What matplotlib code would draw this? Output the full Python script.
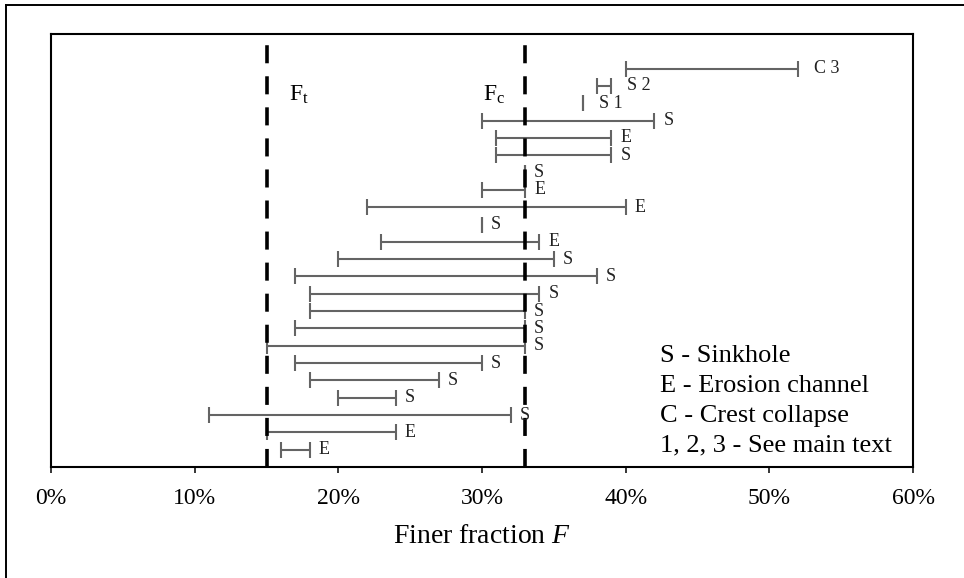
import matplotlib
matplotlib.use("Agg")
import matplotlib.pyplot as plt
from matplotlib.lines import Line2D
from matplotlib.ticker import PercentFormatter, MultipleLocator

# Range of finer fraction F (%) observed for each case, top row first
lower = [40, 38, 37, 30, 31, 31, 33, 30, 22, 30, 23, 20, 17, 18, 18, 17, 15, 17, 18, 20, 11, 15, 16]
upper = [52, 39, 37, 42, 39, 39, 33, 33, 40, 30, 34, 35, 38, 34, 33, 33, 33, 30, 27, 24, 32, 24, 18]
labels = ["C 3", "S 2", "S 1", "S", "E", "S", "S", "E", "E", "S", "E", "S",
          "S", "S", "S", "S", "S", "S", "S", "S", "S", "E", "E"]

# Threshold fractions
F_t = 15
F_c = 33

legend_lines = ["S - Sinkhole", "E - Erosion channel", "C - Crest collapse",
                "1, 2, 3 - See main text"]

plt.rcParams["font.family"] = ["Liberation Serif", "DejaVu Serif"]
plt.rcParams["mathtext.fontset"] = "custom"
plt.rcParams["mathtext.rm"] = "Liberation Serif"
plt.rcParams["mathtext.it"] = "Liberation Serif:italic"

W, H = 964, 578
fig = plt.figure(figsize=(W / 100, H / 100), dpi=100)
ax = fig.add_axes([51 / W, 1 - 467 / H, 862 / W, 433 / H])

n = len(lower)
rows = list(range(n, 0, -1))
centers = [(a + b) / 2 for a, b in zip(lower, upper)]
half = [(b - a) / 2 for a, b in zip(lower, upper)]

ax.errorbar(centers, rows, xerr=half, fmt="none", ecolor="#646464",
            elinewidth=1.5, capsize=6, capthick=1.5, zorder=2)

for x, y, lab in zip(upper, rows, labels):
    off = 9 if len(lab) == 1 else 16
    ax.annotate(lab, (x, y), xytext=(off, 0), textcoords="offset pixels",
                va="center", ha="left", fontsize=13, color="#222222", zorder=4)

for fx in (F_t, F_c):
    ax.plot([fx, fx], [0, 25], color="black", lw=2.6, dashes=(5, 3.6),
            solid_capstyle="butt", dash_capstyle="butt", zorder=3)

ax.text(16.6, 21.5, r"F$_\mathregular{t}$", fontsize=17, va="center", ha="left")
ax.text(30.1, 21.5, r"F$_\mathregular{c}$", fontsize=17, va="center", ha="left")

for i, line in enumerate(legend_lines):
    ax.text(42.4, 6.4 - i * 1.72, line, fontsize=19, va="center", ha="left")

ax.set_xlim(0, 60)
ax.set_ylim(0, 25)
ax.xaxis.set_major_locator(MultipleLocator(10))
ax.xaxis.set_major_formatter(PercentFormatter(xmax=100, decimals=0))
ax.set_yticks([])
ax.tick_params(axis="x", direction="out", length=4.3, width=1.1, pad=10.5,
               labelsize=17)
for sp in ax.spines.values():
    sp.set_linewidth(1.5)
    sp.set_color("black")
ax.set_xlabel(r"Finer fraction $F$", fontsize=20, labelpad=11)

# Outer frame of the figure
fig.add_artist(Line2D([5.5 / W, 5.5 / W], [0, 1 - 4.5 / H], color="black", lw=1.4,
                      transform=fig.transFigure))
fig.add_artist(Line2D([5.5 / W, 1], [1 - 4.5 / H, 1 - 4.5 / H], color="black", lw=1.4,
                      transform=fig.transFigure))

fig.savefig("out.png", dpi=100, facecolor="white")
